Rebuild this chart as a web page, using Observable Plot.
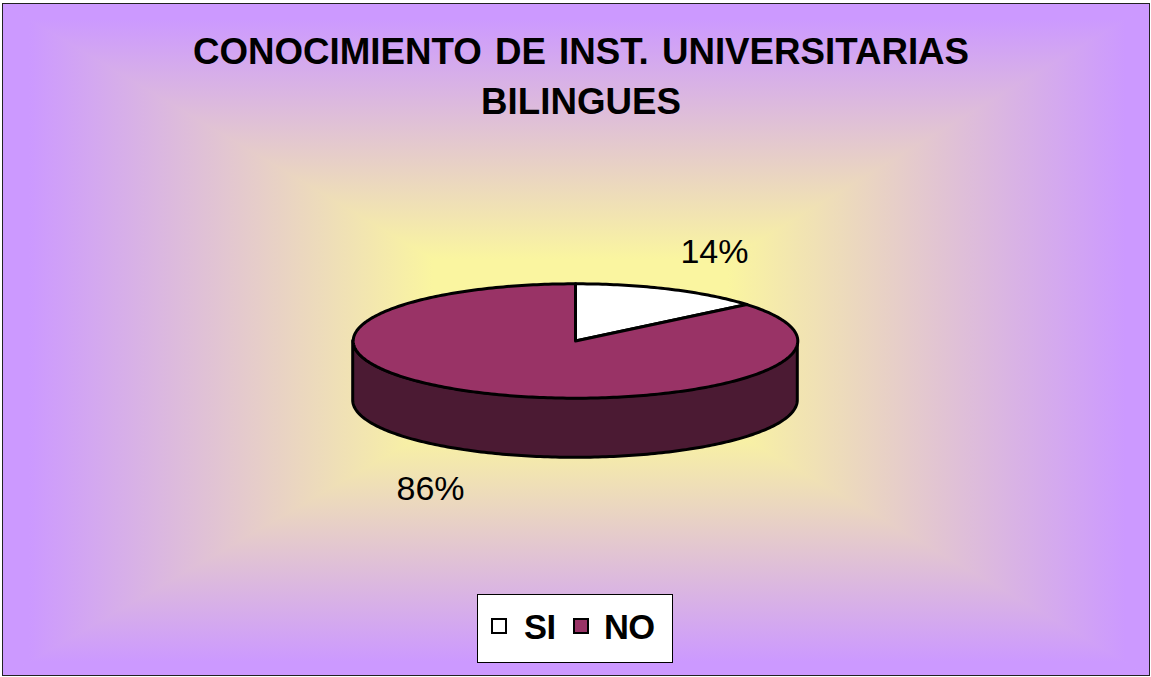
<!DOCTYPE html>
<html>
<head>
<meta charset="utf-8">
<script src="https://cdn.jsdelivr.net/npm/d3@7"></script>
<script src="https://cdn.jsdelivr.net/npm/@observablehq/plot@0.6"></script>
<style>
  html, body { margin: 0; padding: 0; background: #ffffff; }
  body { width: 1151px; height: 677px; overflow: hidden; font-family: "Liberation Sans", Arial, sans-serif; }
  #frame { position: absolute; left: 2px; top: 3px; width: 1146px; height: 671px; border: 1.5px solid #222; overflow: hidden; }
  #bg { position: absolute; left: 0; top: 0; }
  #title { position: absolute; left: -2px; top: 23px; width: 1160px; text-align: center; font-weight: bold; font-size: 36.7px; line-height: 50px; word-spacing: 3px; color: #000; white-space: nowrap; }
  #chart { position: absolute; left: -5px; top: 132.5px; }
  #legend { position: absolute; left: 474px; top: 590px; width: 194px; height: 67px; background: #fff; border: 1.5px solid #000; }
  .sw { position: absolute; width: 12px; height: 12px; border: 2.2px solid #000; }
  .lt { position: absolute; font-weight: bold; font-size: 34.5px; line-height: 34px; letter-spacing: -0.6px; }
</style>
</head>
<body>
<div id="frame">
  <svg id="bg" width="1148" height="673"></svg>
  <div id="title"></div>
  <div id="chart"></div>
  <div id="legend"></div>
</div>
<script>
// ---- data ----
const categories = ["SI", "NO"];
const values = [14, 86];
const labels = ["14%", "86%"];
const titleLines = ["CONOCIMIENTO DE INST. UNIVERSITARIAS", "BILINGUES"];

// ---- styles ----
const sliceColors = ["#FFFFFF", "#993366"];
const sideColor = "#4B1A33";
const tilt = 0.2573;   // ellipse ry / rx
const depth = 0.268;   // thickness in rx units

// ---- background: rectangular gradient (decoration) ----
(function () {
  const bw = 1148, bh = 673;
  const x0 = 430, x1 = 725, y0 = 255, y1 = 425;
  const svg = d3.select("#bg");
  const defs = svg.append("defs");
  const inner = "#FAF5A0", outer = "#CC99FF";
  const mk = (id, ax, ay, bx, by) => {
    const g = defs.append("linearGradient").attr("id", id).attr("gradientUnits", "userSpaceOnUse")
      .attr("x1", ax).attr("y1", ay).attr("x2", bx).attr("y2", by);
    g.append("stop").attr("offset", 0).attr("stop-color", outer);
    g.append("stop").attr("offset", 0.06).attr("stop-color", outer);
    g.append("stop").attr("offset", 1).attr("stop-color", inner);
  };
  mk("gt", 0, 0, 0, y0); mk("gb", 0, bh, 0, y1); mk("gl", 0, 0, x0, 0); mk("gr", bw, 0, x1, 0);
  svg.append("rect").attr("x", x0).attr("y", y0).attr("width", x1 - x0).attr("height", y1 - y0).attr("fill", inner).attr("stroke", inner).attr("stroke-width", 1.5);
  const poly = (pts, id) => svg.append("polygon").attr("points", pts.map(p => p.join(",")).join(" "))
    .attr("fill", `url(#${id})`).attr("stroke", `url(#${id})`).attr("stroke-width", 1.5).attr("stroke-linejoin", "round");
  poly([[0, 0], [bw, 0], [x1, y0], [x0, y0]], "gt");
  poly([[0, bh], [bw, bh], [x1, y1], [x0, y1]], "gb");
  poly([[0, 0], [x0, y0], [x0, y1], [0, bh]], "gl");
  poly([[bw, 0], [x1, y0], [x1, y1], [bw, bh]], "gr");
})();

// ---- title ----
document.getElementById("title").innerHTML = titleLines.map(t => `<div>${t}</div>`).join("");

// ---- pie geometry from values ----
const total = d3.sum(values);
let acc = 0;
const slices = values.map((v, i) => {
  const a0 = acc / total * 2 * Math.PI; acc += v;
  const a1 = acc / total * 2 * Math.PI;
  return { cat: categories[i], label: labels[i], a0, a1, mid: (a0 + a1) / 2 };
});
const step = Math.PI / 180;
const facePts = [];
for (const s of slices) {
  facePts.push({ cat: s.cat, x: 0, y: 0 });
  const n = Math.max(2, Math.ceil((s.a1 - s.a0) / step));
  for (let k = 0; k <= n; k++) {
    const t = s.a0 + (s.a1 - s.a0) * k / n;
    facePts.push({ cat: s.cat, x: Math.sin(t), y: tilt * Math.cos(t) });
  }
}
const sidePts = [];
for (let k = 0; k <= 180; k++) {
  const t = Math.PI / 2 + Math.PI * k / 180;
  const yt = tilt * Math.cos(t);
  sidePts.push({ x: Math.sin(t), yTop: yt, yBot: yt - depth });
}
const labelPts = slices.map(s => {
  const c = Math.cos(s.mid);
  return { text: s.label, x: 1.5 * Math.sin(s.mid), y: 0.44 * c - (c < 0 ? depth : 0) };
});

const rx = 222.3, pw = 1151, ph = 445, pcx = 577, pcy = 203.5;
const chart = Plot.plot({
  width: pw, height: ph, margin: 0,
  x: { domain: [-pcx / rx, (pw - pcx) / rx], axis: null },
  y: { domain: [-(ph - pcy) / rx, pcy / rx], axis: null },
  color: { domain: categories, range: sliceColors },
  style: { background: "transparent", overflow: "visible" },
  marks: [
    Plot.area(sidePts, { x1: "x", y1: "yTop", y2: "yBot", fill: sideColor, stroke: "black", strokeWidth: 3, strokeLinejoin: "round" }),
    Plot.line(facePts, { x: "x", y: "y", z: "cat", fill: "cat", stroke: "black", strokeWidth: 3, curve: "linear-closed", strokeLinejoin: "round" }),
    Plot.text(labelPts, { x: "x", y: "y", text: "text", dx: -3, fontSize: 34, fontFamily: "Liberation Sans, Arial, sans-serif", fill: "black", textAnchor: "middle" })
  ]
});
document.getElementById("chart").appendChild(chart);

// ---- legend ----
const lg = document.getElementById("legend");
const swLeft = [13, 95], txLeft = [46, 126];
categories.forEach((c, i) => {
  const sw = document.createElement("div");
  sw.className = "sw";
  sw.style.left = swLeft[i] + "px"; sw.style.top = "23px";
  sw.style.background = sliceColors[i];
  lg.appendChild(sw);
  const tx = document.createElement("div");
  tx.className = "lt";
  tx.style.left = txLeft[i] + "px"; tx.style.top = "15px";
  tx.textContent = c;
  lg.appendChild(tx);
});
</script>
</body>
</html>
